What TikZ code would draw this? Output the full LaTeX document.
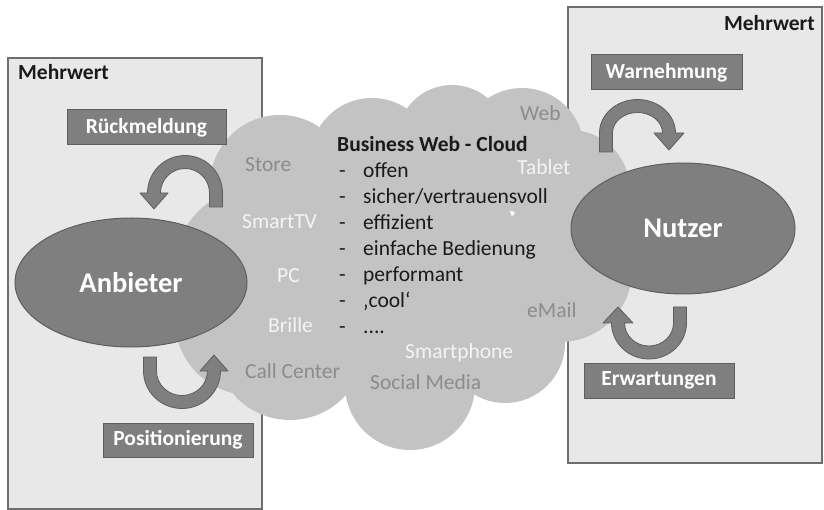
\documentclass[tikz,border=0pt]{standalone}
\usepackage{fontspec}
\setmainfont{Carlito}
\usetikzlibrary{shapes.geometric}
\definecolor{boxfill}{HTML}{E8E8E8}
\definecolor{boxline}{HTML}{6E6E6E}
\definecolor{cloudfill}{HTML}{C3C3C3}
\definecolor{darkfill}{HTML}{7F7F7F}
\definecolor{darkline}{HTML}{5E5E5E}
\definecolor{labeldark}{HTML}{8C8C8C}
\definecolor{labellight}{HTML}{F4F4F4}
\definecolor{txt}{HTML}{1A1A1A}
\newcommand{\txtsize}{\fontsize{21.5}{26}\selectfont}
\tikzset{
 mwbox/.style={draw=boxline, fill=boxfill, line width=1.5pt},
 tagbox/.style={draw=darkline, fill=darkfill, line width=1pt, text=white, font=\bfseries\txtsize, inner sep=0pt},
 actor/.style={ellipse, draw=darkline, fill=darkfill, line width=1pt, text=white, font=\bfseries\fontsize{28.5}{34}\selectfont, inner sep=0pt},
 bandarrow/.style={fill=darkfill, draw=darkline, line width=0.8pt, line join=round},
 cloudpart/.style={fill=cloudfill},
 listtxt/.style={anchor=base west, inner sep=0pt, text=txt, font=\txtsize},
 graytag/.style={anchor=base west, inner sep=0pt, text=labeldark, font=\txtsize},
 whitetag/.style={anchor=base west, inner sep=0pt, text=labellight, font=\txtsize},
 headtxt/.style={anchor=base west, inner sep=0pt, text=txt, font=\bfseries\txtsize},
}
\begin{document}
\begin{tikzpicture}[x=1pt,y=-1pt]
\useasboundingbox (0,0) rectangle (824,510);
% value boxes
\draw[mwbox] (8,58) rectangle (262,509);
\draw[mwbox] (568,7) rectangle (822,463);
\node[headtxt, anchor=base west] (mwleft) at (18,80) {Mehrwert};
\node[headtxt, anchor=base east] (mwright) at (815,31) {Mehrwert};
% cloud
\foreach \cx/\cy/\r in {280/185/70, 372/160/62, 452/140/55, 522/150/62, 570/190/60, 560/270/72, 505/343/60, 410/385/65, 290/345/75, 252/265/76, 250/320/75, 400/260/120}
  \fill[cloudpart] (\cx,\cy) circle[radius=\r];
% tag boxes
\node[tagbox, minimum width=159pt, minimum height=35pt] (rueck) at (146.5,127.5) {Rückmeldung};
\node[tagbox, minimum width=150pt, minimum height=34pt] (posi) at (178,440) {Positionierung};
\node[tagbox, minimum width=151pt, minimum height=35pt] (warn) at (666.5,72.5) {Warnehmung};
\node[tagbox, minimum width=150pt, minimum height=35pt] (erw) at (659,380.5) {Erwartungen};
% actors
\node[actor, minimum width=232pt, minimum height=129pt] (anbieter) at (131,282.5) {Anbieter};
\node[actor, minimum width=224pt, minimum height=131pt] (nutzer) at (683,228.5) {Nutzer};
% curved arrows
\filldraw[bandarrow] (222.5,207) -- (222.5,193) arc[start angle=0, end angle=-180, x radius=37.5, y radius=37.5]
  -- (140,193) -- (154,209) -- (168,193) -- (160.5,193)
  arc[start angle=-180, end angle=0, x radius=24.5, y radius=24.5] -- (209.5,207) -- cycle;
\filldraw[bandarrow] (143.5,357) -- (143.5,371) arc[start angle=180, end angle=0, x radius=38.5, y radius=37.5]
  -- (228,371) -- (214,355) -- (200,371) -- (207.5,371)
  arc[start angle=0, end angle=180, x radius=25.5, y radius=24.5] -- (156.5,357) -- cycle;
\filldraw[bandarrow] (599.5,152) -- (599.5,133) arc[start angle=180, end angle=360, x radius=38, y radius=33.5]
  -- (684,133) -- (669,150) -- (654,133) -- (662.5,133)
  arc[start angle=0, end angle=-180, x radius=25, y radius=20.5] -- (612.5,152) -- cycle;
\filldraw[bandarrow] (686.5,307) -- (686.5,323) arc[start angle=0, end angle=180, x radius=37.5, y radius=36]
  -- (603,323) -- (618,307) -- (633,323) -- (624.5,323)
  arc[start angle=180, end angle=0, x radius=24.5, y radius=23] -- (673.5,307) -- cycle;
% cloud content
\node[headtxt] (title) at (337,151.5) {Business Web - Cloud};
\node[listtxt] (dash0) at (339,178) {-};
\node[listtxt] (item0) at (363,178) {offen};
\node[listtxt] (dash1) at (339,203.9) {-};
\node[listtxt] (item1) at (363,203.9) {sicher/vertrauensvoll};
\node[listtxt] (dash2) at (339,229.8) {-};
\node[listtxt] (item2) at (363,229.8) {effizient};
\node[listtxt] (dash3) at (339,255.7) {-};
\node[listtxt] (item3) at (363,255.7) {einfache Bedienung};
\node[listtxt] (dash4) at (339,281.6) {-};
\node[listtxt] (item4) at (363,281.6) {performant};
\node[listtxt] (dash5) at (339,307.5) {-};
\node[listtxt] (item5) at (363,307.5) {‚cool‘};
\node[listtxt] (dash6) at (339,333.4) {-};
\node[listtxt] (item6) at (363,333.4) {.\kern0pt.\kern0pt.\kern0pt.};
\node[graytag] (store) at (245,171.5) {Store};
\node[whitetag] (smarttv) at (242,229) {SmartTV};
\node[whitetag] (pc) at (277,283) {PC};
\node[whitetag] (brille) at (268,333) {Brille};
\node[graytag] (callc) at (245,378) {Call Center};
\node[graytag] (social) at (370,389) {Social Media};
\node[whitetag] (smartph) at (405,358) {Smartphone};
\node[graytag] (email) at (527,318) {eMail};
\node[whitetag] (tablet) at (517,175) {Tablet};
\node[graytag] (web) at (520,121) {Web};
\end{tikzpicture}
\end{document}
